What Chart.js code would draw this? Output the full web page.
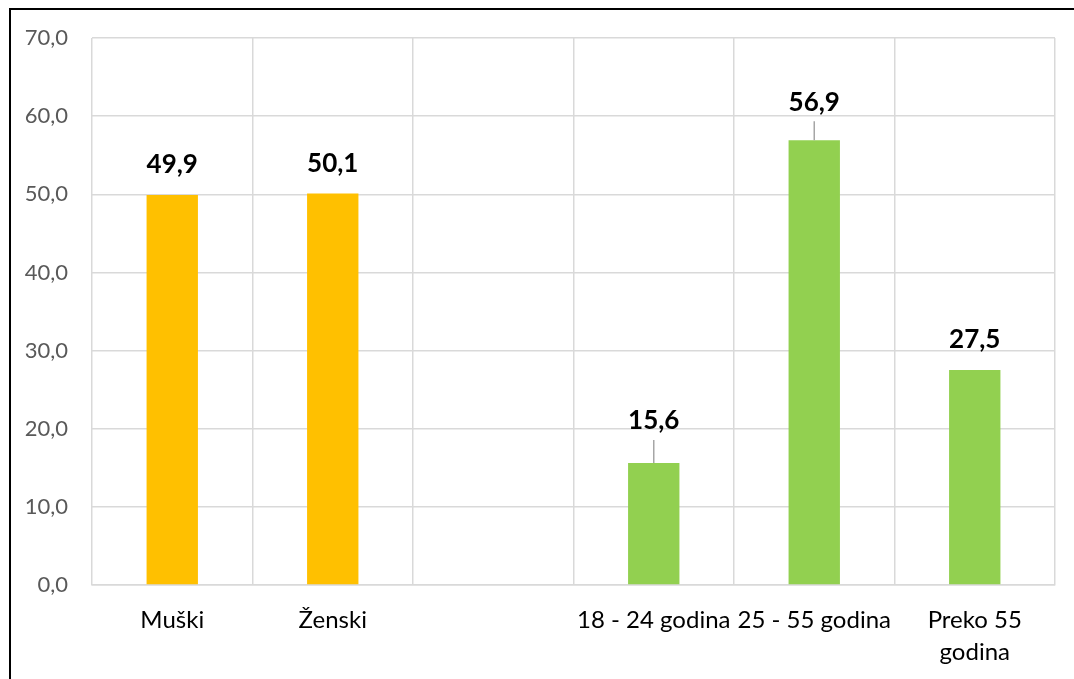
<!DOCTYPE html>
<html>
<head>
<meta charset="utf-8">
<script src="https://cdn.jsdelivr.net/npm/chart.js@4/dist/chart.umd.min.js"></script>
<style>
  html, body { margin: 0; padding: 0; background: #fff; overflow: hidden; }
  #wrap { position: absolute; left: 0; top: 0; width: 1074px; height: 679px; }
  #frame { position: absolute; left: 9px; top: 8px; width: 1200px; height: 800px;
           border-left: 2px solid #000; border-top: 2px solid #000; pointer-events: none; }
</style>
</head>
<body>
<div id="wrap"><canvas id="chart" width="1074" height="679"></canvas></div>
<div id="frame"></div>
<script>
// categories and values
const categories = ['Muški', 'Ženski', '', '18 - 24 godina', '25 - 55 godina', ['Preko 55', 'godina']];
const values = [49.9, 50.1, null, 15.6, 56.9, 27.5];
const groups = ['spol', 'spol', null, 'dob', 'dob', 'dob'];
const yTicks = [0, 10, 20, 30, 40, 50, 60, 70];

const groupColor = { spol: '#FFC000', dob: '#92D050' };
const FONT = 'Lato, Calibri, sans-serif';

function fmt(v) {
    return v.toFixed(1).replace('.', ',');
}

// value labels on top of bars, some pushed higher with a small leader line
const valueLabels = {
    id: 'valueLabels',
    afterDatasetsDraw(chart, args, opts) {
        const ctx = chart.ctx;
        const meta = chart.getDatasetMeta(0);
        ctx.save();
        ctx.font = 'bold 26px ' + FONT;
        ctx.fillStyle = '#000';
        ctx.textAlign = 'center';
        ctx.textBaseline = 'middle';
        meta.data.forEach((bar, i) => {
            const v = values[i];
            if (v == null) return;
            const lift = opts.lift[i] || opts.defaultLift;
            ctx.fillText(fmt(v), bar.x, bar.y - lift);
            if (opts.lift[i]) {
                ctx.strokeStyle = '#A6A6A6';
                ctx.lineWidth = 1.5;
                ctx.beginPath();
                ctx.moveTo(bar.x, bar.y - lift + 19);
                ctx.lineTo(bar.x, bar.y);
                ctx.stroke();
            }
        });
        ctx.restore();
    }
};

new Chart(document.getElementById('chart'), {
    type: 'bar',
    data: {
        labels: categories,
        datasets: [{
            data: values,
            backgroundColor: groups.map(g => groupColor[g] || 'transparent'),
            categoryPercentage: 1,
            barPercentage: 0.32
        }]
    },
    options: {
        responsive: false,
        animation: false,
        layout: { padding: { left: 0, top: 38, right: 19, bottom: 0 } },
        plugins: {
            legend: { display: false },
            tooltip: { enabled: false },
            valueLabels: { defaultLift: 30, lift: { 3: 42, 4: 38 } }
        },
        scales: {
            x: {
                grid: { color: '#D9D9D9', lineWidth: 1.5, drawTicks: false, offset: true },
                border: { color: '#D9D9D9', width: 1.5 },
                ticks: {
                    color: '#000',
                    font: { family: FONT, size: 24, lineHeight: 1.3 },
                    padding: 20,
                    maxRotation: 0,
                    autoSkip: false
                },
                afterFit(scale) { scale.height = 94; }
            },
            y: {
                min: 0,
                max: 70,
                afterBuildTicks(scale) { scale.ticks = yTicks.map(v => ({ value: v })); },
                grid: { color: '#D9D9D9', lineWidth: 1.5, drawTicks: false },
                border: { display: false },
                ticks: {
                    color: '#595959',
                    font: { family: FONT, size: 22 },
                    padding: 24,
                    callback: v => fmt(v)
                },
                afterFit(scale) { scale.width = 92; }
            }
        }
    },
    plugins: [valueLabels]
});
</script>
</body>
</html>
